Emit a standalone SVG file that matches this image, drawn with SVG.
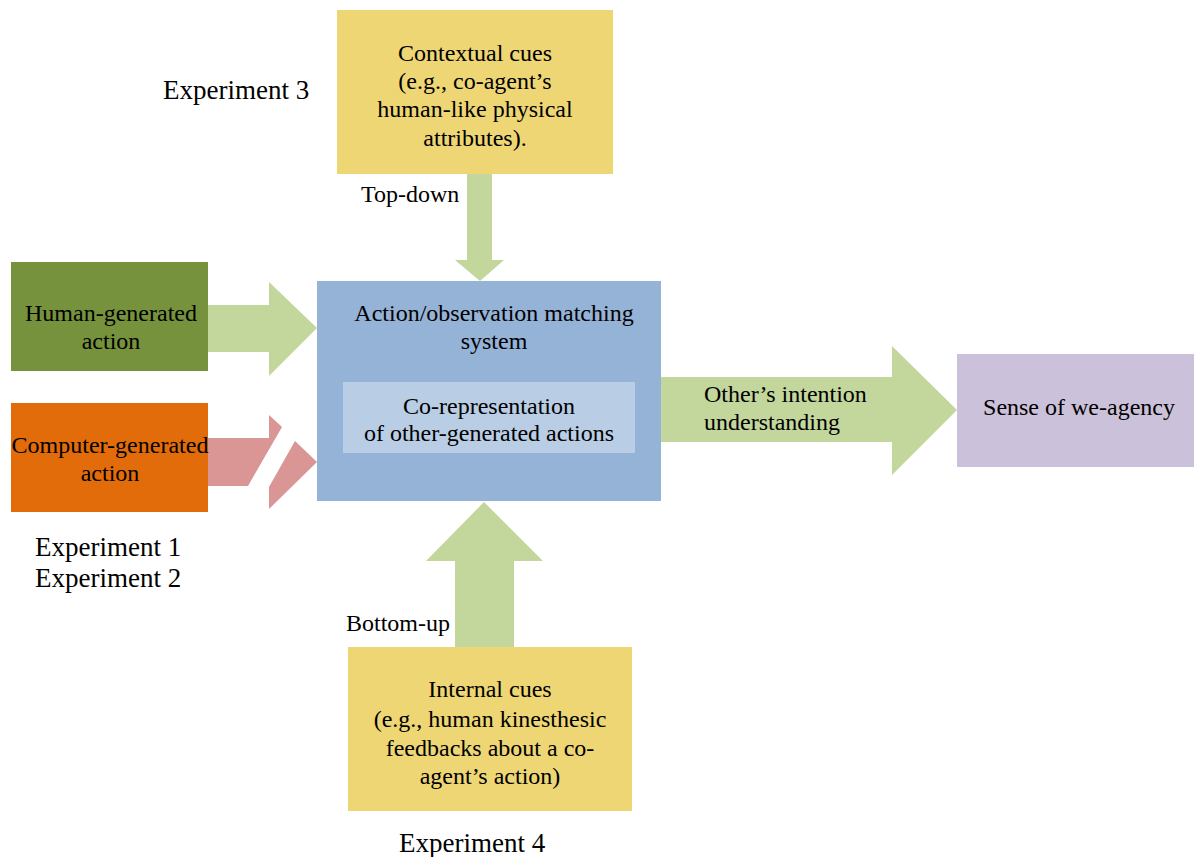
<svg xmlns="http://www.w3.org/2000/svg" width="1194" height="857" viewBox="0 0 1194 857">
<style>
text{font-family:"Liberation Serif","Times New Roman",serif;font-size:24px;fill:#000}
.c{text-anchor:middle}
.exp{font-size:27px}
.arr{fill:#C3D69B}
</style>
<rect width="1194" height="857" fill="#fff"/>
<g id="connectors">
<polygon class="arr" points="208,305 269,305 269,282 317,328 269,376 269,352 208,352"/>
<polygon fill="#D99694" points="208,438 269,438 269,415 282,427 248,486 208,486"/>
<polygon fill="#D99694" points="295,441 317,462 269,509 269,487"/>
<polygon class="arr" points="467,174 492,174 492,260 504,260 480,281 455,260 467,260"/>
<polygon class="arr" points="455,647 514,647 514,561 543,561 484,502 426,561 455,561"/>
<polygon class="arr" points="661,377 892,377 892,346 957,410 892,475 892,442 661,442"/>
<text x="704" y="402">Other’s intention</text>
<text x="704" y="430">understanding</text>
<text x="361" y="202">Top-down</text>
<text x="346" y="631">Bottom-up</text>
</g>
<g id="contextual">
<rect x="337" y="10" width="276" height="164" fill="#EED675"/>
<text class="c" x="475" y="61">Contextual cues</text>
<text class="c" x="475" y="89">(e.g., co-agent’s</text>
<text class="c" x="475" y="117">human-like physical</text>
<text class="c" x="475" y="146">attributes).</text>
</g>
<g id="exp3"><text class="exp" x="163" y="99">Experiment 3</text></g>
<g id="human">
<rect x="11" y="262" width="197" height="109" fill="#77923C"/>
<text class="c" x="111" y="321">Human-generated</text>
<text class="c" x="111" y="349">action</text>
</g>
<g id="computer">
<rect x="11" y="403" width="197" height="109" fill="#E36C0A"/>
<text class="c" x="110" y="453">Computer-generated</text>
<text class="c" x="110" y="481">action</text>
</g>
<g id="exp12">
<text class="exp" x="35" y="556">Experiment 1</text>
<text class="exp" x="35" y="587">Experiment 2</text>
</g>
<g id="matching">
<rect x="317" y="281" width="344" height="220" fill="#95B3D7"/>
<text class="c" x="494" y="321">Action/observation matching</text>
<text class="c" x="494" y="349">system</text>
<rect x="343" y="382" width="292" height="71" fill="#B9CDE5"/>
<text class="c" x="489" y="414">Co-representation</text>
<text class="c" x="489" y="441">of other-generated actions</text>
</g>
<g id="we-agency">
<rect x="957" y="354" width="237" height="113" fill="#CCC1DA"/>
<text class="c" x="1079" y="415">Sense of we-agency</text>
</g>
<g id="internal">
<rect x="348" y="647" width="284" height="164" fill="#EED675"/>
<text class="c" x="490" y="697">Internal cues</text>
<text class="c" x="490" y="727">(e.g., human kinesthesic</text>
<text class="c" x="490" y="756">feedbacks about a co-</text>
<text class="c" x="490" y="784">agent’s action)</text>
</g>
<g id="exp4"><text class="exp" x="399" y="852">Experiment 4</text></g>
</svg>
